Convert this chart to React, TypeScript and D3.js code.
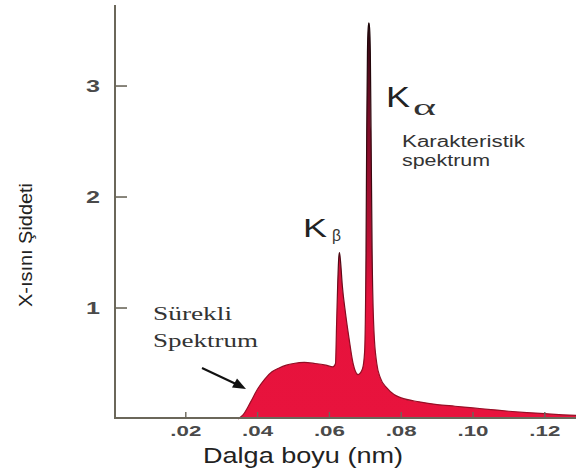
import React from "react";
import * as d3 from "d3";

// Spectrum data: wavelength (nm) vs X-ray intensity
const wavelength = [
  0.0345, 0.036, 0.038, 0.04, 0.042, 0.044, 0.046, 0.048, 0.05, 0.053, 0.056, 0.059, 0.061,
  0.0617, 0.062, 0.0623, 0.0626, 0.0628, 0.0631, 0.0636, 0.0645, 0.0655, 0.0666, 0.068,
  0.0692, 0.0698, 0.0702, 0.0704, 0.0706, 0.0708, 0.071, 0.0712, 0.0714, 0.0716, 0.0719,
  0.0724, 0.0732, 0.0742, 0.076, 0.078, 0.08, 0.085, 0.09,
  0.095, 0.1, 0.105, 0.11, 0.115, 0.12, 0.125, 0.13,
];
const intensity = [
  0, 0.04, 0.15, 0.27, 0.36, 0.425, 0.46, 0.485, 0.5, 0.51, 0.5, 0.485, 0.47,
  0.5, 0.85, 1.2, 1.45, 1.5, 1.42, 1.2, 0.95, 0.72, 0.5, 0.4,
  0.45, 0.6, 1.5, 2.6, 3.3, 3.52, 3.57, 3.52, 3.3, 2.6, 1.5,
  0.8, 0.5, 0.37, 0.28, 0.22, 0.19, 0.155, 0.13,
  0.115, 0.1, 0.085, 0.07, 0.058, 0.048, 0.038, 0.03,
];
const xTicks = [0.02, 0.04, 0.06, 0.08, 0.1, 0.12];
const xTickLabels = [".02", ".04", ".06", ".08", ".10", ".12"];
const yTicks = [1, 2, 3];
const yTickLabels = ["1", "2", "3"];

const W = 576;
const H = 475;
const SANS = "'Liberation Sans', Arial, Helvetica, sans-serif";
const SERIF = "'Liberation Serif', 'Times New Roman', serif";

export default function App() {
  const x = d3.scaleLinear().domain([0, 0.13]).range([114, 580.7]);
  const y = d3.scaleLinear().domain([0, 3.73]).range([419, 5]);
  const data: [number, number][] = wavelength.map((w, i) => [w, intensity[i]]);
  const area = d3
    .area<[number, number]>()
    .x((d) => x(d[0]))
    .y0(y(0))
    .y1((d) => y(d[1]))
    .curve(d3.curveMonotoneX);
  const line = d3
    .line<[number, number]>()
    .x((d) => x(d[0]))
    .y((d) => y(d[1]))
    .curve(d3.curveMonotoneX);

  const axisColor = "#6b675a";
  const gTop = 3.6;
  const off = (v: number) => (gTop - v) / gTop;

  return (
    <svg
      width={W}
      height={H}
      viewBox={`0 0 ${W} ${H}`}
      style={{ position: "absolute", left: 0, top: 0, background: "#fff" }}
    >
      <defs>
        <linearGradient
          id="peakGrad"
          gradientUnits="userSpaceOnUse"
          x1={0}
          y1={y(gTop)}
          x2={0}
          y2={y(0)}
        >
          <stop offset={off(3.6)} stopColor="#2a0810" />
          <stop offset={off(2.7)} stopColor="#7a0c28" />
          <stop offset={off(1.7)} stopColor="#b30f32" />
          <stop offset={off(1.1)} stopColor="#e6123c" />
          <stop offset={1} stopColor="#e8133d" />
        </linearGradient>
        <linearGradient
          id="edgeGrad"
          gradientUnits="userSpaceOnUse"
          x1={0}
          y1={y(gTop)}
          x2={0}
          y2={y(0)}
        >
          <stop offset={off(3.6)} stopColor="#1a0508" />
          <stop offset={off(1.5)} stopColor="#4a0a14" />
          <stop offset={off(0.9)} stopColor="#8a0c22" />
          <stop offset={1} stopColor="#9a0e26" />
        </linearGradient>
      </defs>

      {/* spectrum */}
      <path d={area(data) || ""} fill="url(#peakGrad)" />
      <path d={line(data) || ""} fill="none" stroke="url(#edgeGrad)" strokeWidth={1.2} />

      {/* axes */}
      <line x1={115} x2={115} y1={y(3.73)} y2={418} stroke={axisColor} strokeWidth={2} />
      <line x1={114} x2={W} y1={418} y2={418} stroke={axisColor} strokeWidth={2} />

      {yTicks.map((t, i) => (
        <g key={"y" + t}>
          <line x1={115} x2={127} y1={y(t)} y2={y(t)} stroke={axisColor} strokeWidth={1.6} />
          <text
            x={93}
            y={y(t) + 6}
            textAnchor="middle"
            fontFamily={SANS}
            fontWeight={700}
            fontSize={17}
            fill="#4a4a4a"
            textLength={14}
            lengthAdjust="spacingAndGlyphs"
          >
            {yTickLabels[i]}
          </text>
        </g>
      ))}

      {xTicks.map((t, i) => (
        <g key={"x" + t}>
          <line x1={x(t)} x2={x(t)} y1={418} y2={412} stroke={axisColor} strokeWidth={1.4} />
          <text
            x={x(t)}
            y={436}
            textAnchor="middle"
            fontFamily={SANS}
            fontWeight={700}
            fontSize={14}
            fill="#4a4a4a"
            textLength={31}
            lengthAdjust="spacingAndGlyphs"
          >
            {xTickLabels[i]}
          </text>
        </g>
      ))}

      {/* axis titles */}
      <text
        x={303}
        y={463}
        textAnchor="middle"
        fontFamily={SANS}
        fontSize={22}
        fill="#222"
        textLength={200}
        lengthAdjust="spacingAndGlyphs"
      >
        Dalga boyu (nm)
      </text>
      <text
        transform="translate(32,245) rotate(-90)"
        textAnchor="middle"
        fontFamily={SANS}
        fontSize={19}
        fill="#222"
        textLength={124}
        lengthAdjust="spacingAndGlyphs"
      >
        X-ısını Şiddeti
      </text>

      {/* annotations */}
      <text x={303} y={237} fontFamily={SANS} fontSize={25} fill="#222" textLength={24} lengthAdjust="spacingAndGlyphs">
        K
      </text>
      <text x={332} y={241} fontFamily={SANS} fontSize={17} fill="#333" textLength={9} lengthAdjust="spacingAndGlyphs">
        β
      </text>
      <text x={386} y={107} fontFamily={SANS} fontSize={30} fill="#222" textLength={24} lengthAdjust="spacingAndGlyphs">
        K
      </text>
      <text x={413} y={115} fontFamily={SERIF} fontSize={24} fill="#333" textLength={23} lengthAdjust="spacingAndGlyphs">
        α
      </text>
      <text x={402} y={147} fontFamily={SANS} fontSize={16} fill="#333" textLength={123} lengthAdjust="spacingAndGlyphs">
        Karakteristik
      </text>
      <text x={402} y={166} fontFamily={SANS} fontSize={16} fill="#333" textLength={88} lengthAdjust="spacingAndGlyphs">
        spektrum
      </text>
      <text x={153} y={320} fontFamily={SERIF} fontSize={19} fill="#333" textLength={79} lengthAdjust="spacingAndGlyphs">
        Sürekli
      </text>
      <text x={153} y={347} fontFamily={SERIF} fontSize={19} fill="#333" textLength={105} lengthAdjust="spacingAndGlyphs">
        Spektrum
      </text>

      {/* arrow */}
      <line x1={202} y1={368} x2={236} y2={384} stroke="#111" strokeWidth={2} />
      <polygon points="246,389 232,387.5 237,378.5" fill="#111" />
    </svg>
  );
}
